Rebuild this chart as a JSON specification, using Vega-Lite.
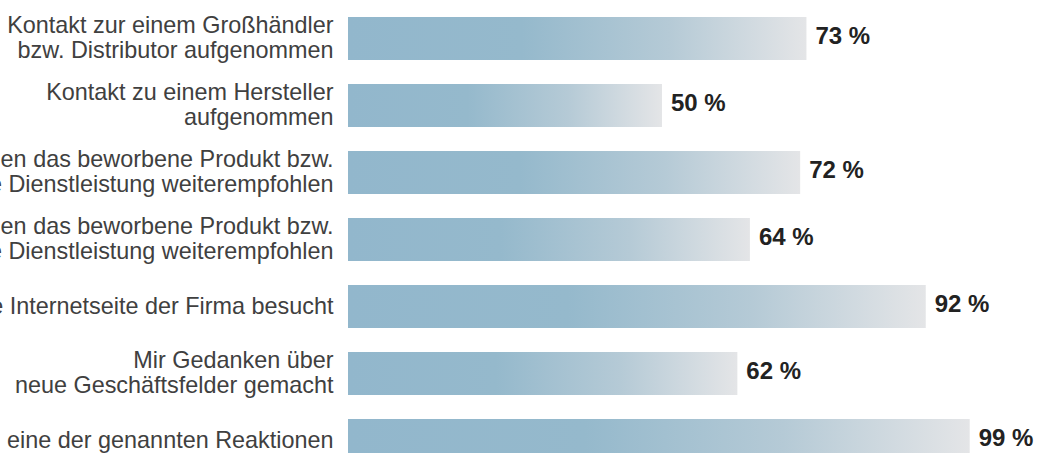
{
  "$schema": "https://vega.github.io/schema/vega-lite/v6.json",
  "width": 628,
  "height": 469,
  "autosize": {"type": "none"},
  "padding": {"left": 348, "top": 5, "right": 67, "bottom": 0},
  "background": "white",
  "config": {"view": {"stroke": null}},
  "data": {
    "values": [
      {"label": "Kontakt zur einem Großhändler|bzw. Distributor aufgenommen", "value": 73, "pct": "73 %"},
      {"label": "Kontakt zu einem Hersteller|aufgenommen", "value": 50, "pct": "50 %"},
      {"label": "Kollegen das beworbene Produkt bzw.|die Dienstleistung weiterempfohlen", "value": 72, "pct": "72 %"},
      {"label": "Kunden das beworbene Produkt bzw.|die Dienstleistung weiterempfohlen", "value": 64, "pct": "64 %"},
      {"label": "Die Internetseite der Firma besucht", "value": 92, "pct": "92 %"},
      {"label": "Mir Gedanken über|neue Geschäftsfelder gemacht", "value": 62, "pct": "62 %"},
      {"label": "Mind. eine der genannten Reaktionen", "value": 99, "pct": "99 %"}
    ]
  },
  "encoding": {
    "y": {
      "field": "label",
      "type": "nominal",
      "sort": null,
      "scale": {"paddingInner": 0.358, "paddingOuter": 0.179},
      "axis": {
        "title": null,
        "ticks": false,
        "domain": false,
        "labelPadding": 15,
        "labelFontSize": 23.4,
        "labelFont": "Liberation Sans",
        "labelColor": "#404040",
        "labelLimit": 0,
        "labelExpr": "split(datum.value, '|')",
        "labelLineHeight": 25.5,
        "labelOffset": {
          "condition": {"test": "indexof(datum.value, '|') >= 0", "value": -13},
          "value": 0
        }
      }
    },
    "x": {
      "field": "value",
      "type": "quantitative",
      "scale": {"domain": [0, 100]},
      "axis": null
    }
  },
  "layer": [
    {
      "mark": {
        "type": "bar",
        "fill": {
          "gradient": "linear",
          "x1": 0, "x2": 1, "y1": 0, "y2": 0,
          "stops": [
            {"offset": 0, "color": "#92B7CC"},
            {"offset": 0.38, "color": "#95B9CC"},
            {"offset": 0.7, "color": "#B5CAD6"},
            {"offset": 1, "color": "#E4E5E7"}
          ]
        }
      }
    },
    {
      "mark": {
        "type": "text",
        "align": "left",
        "baseline": "middle",
        "dx": 9,
        "dy": -2,
        "fontSize": 24,
        "fontWeight": "bold",
        "font": "Liberation Sans",
        "color": "#222222"
      },
      "encoding": {"text": {"field": "pct"}}
    }
  ]
}
